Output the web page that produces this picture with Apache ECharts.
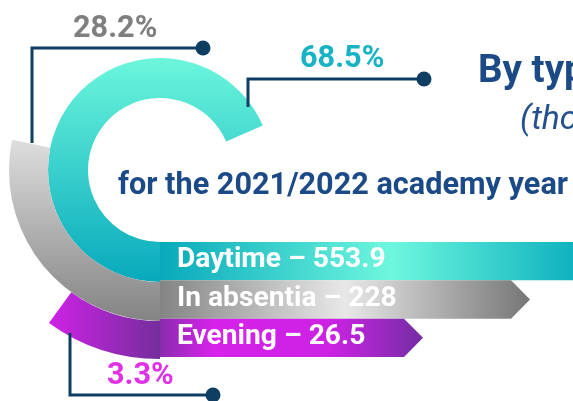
<!DOCTYPE html>
<html>
<head>
<meta charset="utf-8">
<title>By type of study</title>
<script src="https://cdn.jsdelivr.net/npm/echarts@6.0.0/dist/echarts.min.js"></script>
<style>
  html, body { margin: 0; padding: 0; background: #fff; }
  #chart { width: 573px; height: 401px; }
</style>
</head>
<body>
<div id="chart"></div>
<script>
var categories = ['Daytime', 'In absentia', 'Evening'];
var values = [553.9, 228, 26.5];      // thousand people
var shares = [68.5, 28.2, 3.3];       // percent

var navy = '#0e3f63';
var blue = '#1b4a87';
var pctColors = ['#17b3c5', '#7f7f7f', '#e030e8'];

// no Roboto Condensed here, so plain Roboto gets squeezed to the same width
var ctx = document.createElement('canvas').getContext('2d');
ctx.font = 'bold 31px Roboto';
var squeeze = 450 / ctx.measureText('for the 2021/2022 academy year').width;

var G = echarts.graphic.LinearGradient;
var ringColors = [
  new G(0, 0, 0, 1, [{offset: 0, color: '#6cf6dc'}, {offset: 1, color: '#07a9bc'}]),
  new G(0, 0, 0, 1, [{offset: 0, color: '#dedede'}, {offset: 1, color: '#838383'}]),
  new G(0, 0, 1, 0, [{offset: 0, color: '#cf22e6'}, {offset: 1, color: '#742e9c'}])
];
var barColors = [
  new G(0, 0, 1, 0, [{offset: 0, color: '#08a9bb'}, {offset: 0.56, color: '#6ef7de'}, {offset: 1, color: '#0fb2bf'}]),
  new G(0, 0, 1, 0, [{offset: 0, color: '#848484'}, {offset: 0.5, color: '#e8e8e8'}, {offset: 1, color: '#767676'}]),
  new G(0, 0, 1, 0, [{offset: 0, color: '#8a2cae'}, {offset: 0.2, color: '#d622ea'}, {offset: 0.65, color: '#cc22e4'}, {offset: 1, color: '#732ea3'}])
];
var rings = [[72, 112], [112, 151], [151, 189]];
var xMax = 541;

var ringSeries = shares.map(function (s, i) {
  return {
    type: 'pie',
    center: [160, 170],
    radius: rings[i],
    startAngle: 270,
    clockwise: true,
    minAngle: i === 2 ? 36 : 0,
    silent: true,
    label: { show: false },
    labelLine: { show: false },
    itemStyle: { borderWidth: 0 },
    data: [
      { value: s, name: categories[i], itemStyle: { color: ringColors[i] } },
      { value: 100 - s, name: '', itemStyle: { color: 'rgba(0,0,0,0)' } }
    ]
  };
});

var barSeries = {
  type: 'custom',
  coordinateSystem: 'cartesian2d',
  data: values.map(function (v, i) { return [v, i]; }),
  encode: { x: 0, y: 1 },
  clip: false,
  silent: true,
  renderItem: function (params, api) {
    var i = params.dataIndex;
    var cs = params.coordSys;
    var h = cs.height / categories.length;
    var v = api.value(0);
    var p = api.coord([Math.min(v, xMax), i]);
    var top = p[1] - h / 2, bot = p[1] + h / 2;
    var x0 = cs.x;
    var pts;
    if (v > xMax) {
      // past the end of the axis: the bar runs off the page
      var xe = api.getWidth();
      pts = [[x0, top], [xe, top], [xe, bot], [x0, bot]];
    } else {
      var a = 19;
      pts = [[x0, top], [p[0] - a, top], [p[0], p[1]], [p[0] - a, bot], [x0, bot]];
    }
    return {
      type: 'group',
      children: [
        { type: 'polygon', shape: { points: pts }, style: { fill: barColors[i] } },
        {
          type: 'text', x: x0 + 17, y: p[1] - 1, scaleX: squeeze,
          style: {
            text: categories[i] + ' \u2013 ' + values[i],
            font: 'bold 28.5px Roboto', fill: '#fff', textVerticalAlign: 'middle'
          }
        }
      ]
    };
  }
};

// leader lines and share labels
var leaders = [
  [[248, 107], [248, 79], [424, 79]],
  [[32, 143], [32, 48], [203, 48]],
  [[70, 333], [70, 395], [213, 395]]
];
var pctPos = [[300, 59], [73, 29], [107, 376]];

var graphics = [];
leaders.forEach(function (pts, i) {
  graphics.push({ type: 'polyline', z: 10, shape: { points: pts }, style: { stroke: navy, lineWidth: 3, fill: null } });
  var end = pts[pts.length - 1];
  graphics.push({ type: 'circle', z: 10, shape: { cx: end[0], cy: end[1], r: 7.5 }, style: { fill: navy } });
  graphics.push({
    type: 'text', z: 10, x: pctPos[i][0], y: pctPos[i][1], scaleX: squeeze,
    style: { text: shares[i] + '%', font: 'bold 31px Roboto', fill: pctColors[i], textVerticalAlign: 'middle' }
  });
});
graphics.push(
  { type: 'text', z: 10, x: 478, y: 72, scaleX: squeeze,
    style: { text: 'By type of study', font: 'bold 39px Roboto', fill: blue, textVerticalAlign: 'middle' } },
  { type: 'text', z: 10, x: 520, y: 120, scaleX: squeeze,
    style: { text: '(thousand people)', font: 'italic 34px Roboto', fill: '#24508f', textVerticalAlign: 'middle' } },
  { type: 'text', z: 10, x: 118, y: 186, scaleX: squeeze,
    style: { text: 'for the 2021/2022 academy year', font: 'bold 31px Roboto', fill: blue, textVerticalAlign: 'middle' } }
);

var chart = echarts.init(document.getElementById('chart'));
chart.setOption({
  animation: false,
  backgroundColor: '#fff',
  grid: { left: 160, top: 242, width: 413, height: 115 },
  xAxis: { type: 'log', min: 0.1337, max: xMax, show: false },
  yAxis: { type: 'category', data: categories, inverse: true, show: false },
  graphic: graphics,
  series: ringSeries.concat([barSeries])
});
</script>
</body>
</html>
